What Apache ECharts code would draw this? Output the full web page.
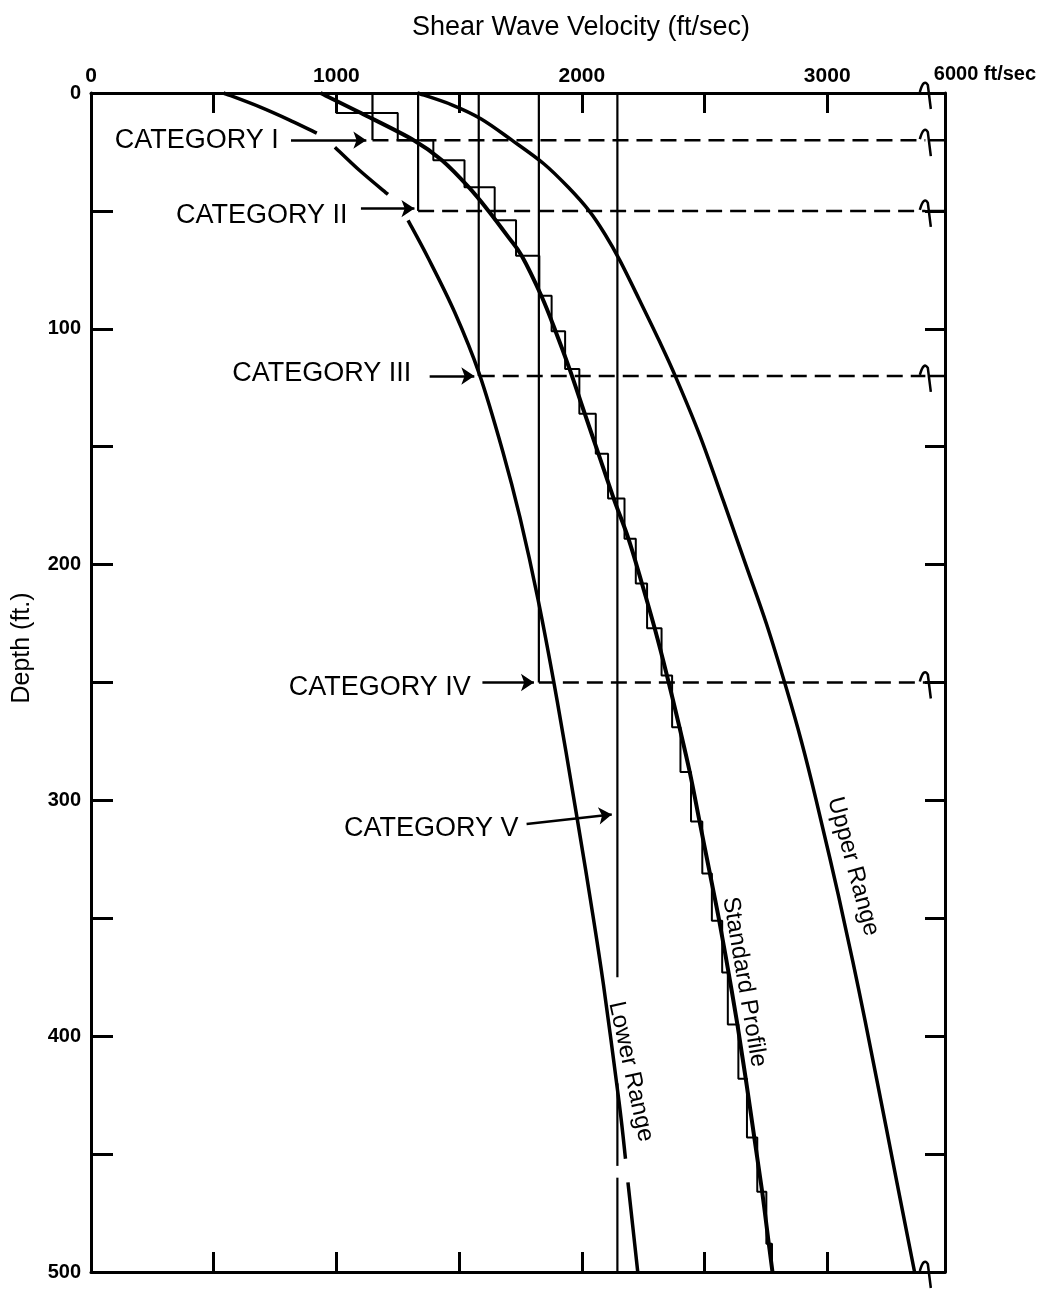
<!DOCTYPE html>
<html><head><meta charset="utf-8">
<script src="https://cdn.jsdelivr.net/npm/echarts@6/dist/echarts.min.js"></script>
<style>html,body{margin:0;padding:0;background:#fff}#c{width:1045px;height:1294px}</style>
</head><body><div id="c"></div>
<script>
// ---------------- DATA ----------------
const X_TICK_LABELS = [0, 1000, 2000, 3000];
const Y_TICK_LABELS = [0, 100, 200, 300, 400, 500];
const X_MAX = 3480;          // right edge of plot (broken axis, "6000 ft/sec")
const BREAK_V = 3410;        // position of axis break
const BREAK_LABEL = '6000 ft/sec';

const STANDARD_DEPTH = [0, 8.5, 20, 28.5, 40, 50, 61, 69, 86, 101, 117, 136, 153, 172, 189, 208, 227, 247, 269, 288, 309, 331, 351, 373, 395, 418, 443, 466, 488, 500];
const STANDARD_VEL   = [935, 1100, 1315, 1430, 1540, 1620, 1700, 1755, 1835, 1893, 1950, 2012, 2068, 2130, 2190, 2245, 2297, 2347, 2398, 2440, 2480, 2522, 2560, 2598, 2634, 2668, 2703, 2735, 2762, 2777];

const STEP_DEPTH = [0, 8.5, 20, 28.5, 40, 54, 69, 86, 101, 117, 136, 153, 172, 189, 208, 227, 247, 269, 288, 309, 331, 351, 373, 395, 418, 443, 466, 488, 500];
const STEP_VEL   = [1000, 1250, 1395, 1522, 1645, 1732, 1827, 1877, 1932, 1990, 2057, 2107, 2174, 2220, 2266, 2325, 2368, 2402, 2445, 2491, 2530, 2572, 2595, 2638, 2673, 2715, 2752, 2775];

const UPPER_DEPTH = [0, 5, 11, 20, 30, 40, 50, 60, 71, 88, 105, 121, 145, 173, 200, 225, 253, 275, 299, 340, 380, 420, 462, 500];
const UPPER_VEL   = [1330, 1470, 1590, 1715, 1845, 1945, 2030, 2095, 2155, 2236, 2315, 2385, 2480, 2577, 2668, 2752, 2835, 2895, 2953, 3045, 3128, 3205, 3284, 3356];

// null = break in the drawn curve
const LOWER_DEPTH = [0, 6, 12, 17, null, 23, 33, 43, null, 54, 70, 93, 119, 152, 180, 215, 258, 307, 342, 378, 428, 452, null, 462, 480, 500];
const LOWER_VEL   = [540, 690, 820, 920, null, 994, 1096, 1210, null, 1292, 1374, 1482, 1582, 1678, 1748, 1822, 1900, 1980, 2035, 2088, 2152, 2178, null, 2188, 2207, 2228];

const CATEGORY_NAMES = ['CATEGORY I', 'CATEGORY II', 'CATEGORY III', 'CATEGORY IV', 'CATEGORY V'];
const CATEGORY_VEL   = [1147, 1333, 1580, 1825, 2145];
const CATEGORY_DEPTH = [20, 50, 120, 250, 500];
const CAT5_GAPS = [[375, 420], [455, 460]];

const CURVE_LABELS = ['Upper Range', 'Standard Profile', 'Lower Range'];

// ---------------- ANNOTATION ANCHORS (data units) ----------------
const ARROW_START = [[815, 20], [1100, 49], [1380, 120], [1595, 250], [1775, 310]];
const ARROW_END   = [[1122, 20], [1318, 49], [1562, 120], [1805, 250], [2122, 306]];
const CAT_LABEL_AT = [[765, 20], [1045, 52], [1305, 119], [1548, 252], [1742, 312]];
const CURVE_LABEL_AT = [[3106, 328], [2662, 377], [2200, 415]];
const CURVE_LABEL_ANGLE = [74.8, 80.3, 77.7];

// ---------------- BUILD ----------------
const FONT = "'Liberation Sans', Arial, Helvetica, sans-serif";
const zip = (v, d) => v.map((x, i) => [x, d[i]]);

function splitSegments(vel, depth) {
  const segs = []; let cur = [];
  vel.forEach((v, i) => {
    if (v === null) { if (cur.length) segs.push(cur); cur = []; }
    else cur.push([v, depth[i]]);
  });
  if (cur.length) segs.push(cur);
  return segs;
}

const stepData = [];
STEP_VEL.forEach((v, i) => { stepData.push([v, STEP_DEPTH[i]]); stepData.push([v, STEP_DEPTH[i + 1]]); });

const series = [];
const lineBase = { type: 'line', xAxisIndex: 0, yAxisIndex: 0, symbol: 'none', silent: true, animation: false };

// smooth curve through data points (Catmull-Rom), positioned through the axes via api.coord
function curveSeries(name, points, width) {
  return {
    type: 'custom', name: name, xAxisIndex: 0, yAxisIndex: 0, silent: true, animation: false,
    data: [points[0]],
    renderItem: (params, api) => {
      const p = points.map(q => api.coord(q));
      let d = `M${p[0][0]} ${p[0][1]}`;
      for (let i = 0; i < p.length - 1; i++) {
        const p0 = p[i - 1] || p[i], p1 = p[i], p2 = p[i + 1], p3 = p[i + 2] || p[i + 1];
        const c1x = p1[0] + (p2[0] - p0[0]) / 6, c1y = p1[1] + (p2[1] - p0[1]) / 6;
        const c2x = p2[0] - (p3[0] - p1[0]) / 6, c2y = p2[1] - (p3[1] - p1[1]) / 6;
        d += ` C${c1x} ${c1y} ${c2x} ${c2y} ${p2[0]} ${p2[1]}`;
      }
      return { type: 'path', shape: { pathData: d }, style: { stroke: '#000', fill: 'none', lineWidth: width, lineCap: 'butt', lineJoin: 'round' } };
    }
  };
}

series.push(Object.assign({}, lineBase, { name: 'step', data: stepData, lineStyle: { color: '#000', width: 2 } }));
series.push(curveSeries('Standard Profile', zip(STANDARD_VEL, STANDARD_DEPTH), 4));
series.push(curveSeries('Upper Range', zip(UPPER_VEL, UPPER_DEPTH), 3.5));
splitSegments(LOWER_VEL, LOWER_DEPTH).forEach(seg => series.push(curveSeries('Lower Range', seg, 3.5)));

// category verticals and dashed horizontals
CATEGORY_VEL.forEach((v, i) => {
  const d = CATEGORY_DEPTH[i];
  if (i < 4) {
    series.push(Object.assign({}, lineBase, { data: [[v, 0], [v, d]], lineStyle: { color: '#000', width: 2.2 } }));
    series.push(Object.assign({}, lineBase, { data: [[v, d], [BREAK_V - 10, d]], lineStyle: { color: '#000', width: 2.5, type: [16, 8] } }));
    series.push(Object.assign({}, lineBase, { data: [[BREAK_V + 6, d], [X_MAX, d]], lineStyle: { color: '#000', width: 2.5 } }));
  } else {
    let start = 0;
    CAT5_GAPS.concat([[d, d]]).forEach(g => {
      series.push(Object.assign({}, lineBase, { data: [[v, start], [v, g[0]]], lineStyle: { color: '#000', width: 2.2 } }));
      start = g[1];
    });
  }
});

// arrows
series.push({
  type: 'lines', coordinateSystem: 'cartesian2d', xAxisIndex: 0, yAxisIndex: 0, silent: true, animation: false,
  symbol: ['none', 'arrow'], symbolSize: 13,
  lineStyle: { color: '#000', width: 2.5, opacity: 1 },
  data: ARROW_START.map((s, i) => ({ coords: [s, ARROW_END[i]] }))
});

// axis break marks
const breakDepths = [0].concat(CATEGORY_DEPTH.slice(0, 4), [500]);
series.push({
  type: 'custom', xAxisIndex: 0, yAxisIndex: 0, silent: true, animation: false,
  data: breakDepths.map(d => [BREAK_V, d]),
  renderItem: (params, api) => {
    const p = api.coord([api.value(0), api.value(1)]);
    const x = p[0], y = p[1];
    return {
      type: 'path',
      shape: { pathData: `M${x - 8} ${y - 1} Q${x - 4} ${y - 15} ${x} ${y - 8} L${x + 3} ${y + 16}` },
      style: { stroke: '#000', fill: 'none', lineWidth: 2.5 }
    };
  }
});

const axisCommon = {
  type: 'value', min: 0, splitLine: { show: false },
  axisLine: { show: true, onZero: false, lineStyle: { color: '#000', width: 3 } },
  axisTick: { show: true, inside: true, length: 20, lineStyle: { color: '#000', width: 3 } }
};

const option = {
  backgroundColor: '#fff',
  animation: false,
  grid: { left: 91, right: 100, top: 93, bottom: 22, containLabel: false },
  xAxis: [
    Object.assign({}, axisCommon, {
      position: 'top', max: X_MAX, interval: 500,
      axisLabel: { show: true, margin: 6, color: '#000', fontFamily: FONT, fontWeight: 'bold', fontSize: 21,
        formatter: v => X_TICK_LABELS.includes(v) ? String(v) : '' }
    }),
    Object.assign({}, axisCommon, {
      position: 'bottom', max: X_MAX, interval: 500, axisLabel: { show: false }
    })
  ],
  yAxis: [
    Object.assign({}, axisCommon, {
      position: 'left', inverse: true, max: 500, interval: 50,
      axisTick: { show: true, inside: true, length: 22, lineStyle: { color: '#000', width: 3 } },
      axisLabel: { show: true, margin: 10, color: '#000', fontFamily: FONT, fontWeight: 'bold', fontSize: 20,
        formatter: v => Y_TICK_LABELS.includes(v) ? String(v) : '' }
    }),
    Object.assign({}, axisCommon, {
      position: 'right', inverse: true, max: 500, interval: 50, axisLabel: { show: false }
    })
  ],
  series: series
};

const chart = echarts.init(document.getElementById('c'), null, { renderer: 'canvas' });
chart.setOption(option);

const px = (v, d) => chart.convertToPixel({ seriesIndex: 0 }, [v, d]);
const graphics = [];
const txt = (x, y, text, size, opts) => Object.assign({
  type: 'text', x: x, y: y, silent: true,
  style: Object.assign({ text: text, fill: '#000', font: `${size}px ${FONT}`, align: 'center', verticalAlign: 'middle',
    textAlign: 'center', textVerticalAlign: 'middle' }, (opts && opts.style) || {})
}, (opts && opts.el) || {});

// title & axis name
graphics.push(txt(581, 28, 'Shear Wave Velocity (ft/sec)', 27));
graphics.push(txt(22, 648, 'Depth (ft.)', 25, { el: { rotation: Math.PI / 2 } }));
// broken-axis label
const bp = px(BREAK_V, 0);
graphics.push(txt(bp[0] + 6, bp[1] - 19, BREAK_LABEL, 20, { style: { font: `bold 20px ${FONT}`, align: 'left', textAlign: 'left' } }));
// category labels
CATEGORY_NAMES.forEach((n, i) => {
  const p = px(CAT_LABEL_AT[i][0], CAT_LABEL_AT[i][1]);
  graphics.push(txt(p[0], p[1], n, 27, { style: { align: 'right', textAlign: 'right' } }));
});
// curve labels
CURVE_LABELS.forEach((n, i) => {
  const p = px(CURVE_LABEL_AT[i][0], CURVE_LABEL_AT[i][1]);
  graphics.push(txt(p[0], p[1], n, 24, { el: { rotation: -CURVE_LABEL_ANGLE[i] * Math.PI / 180 } }));
});
chart.setOption({ graphic: graphics });
</script>
</body></html>
